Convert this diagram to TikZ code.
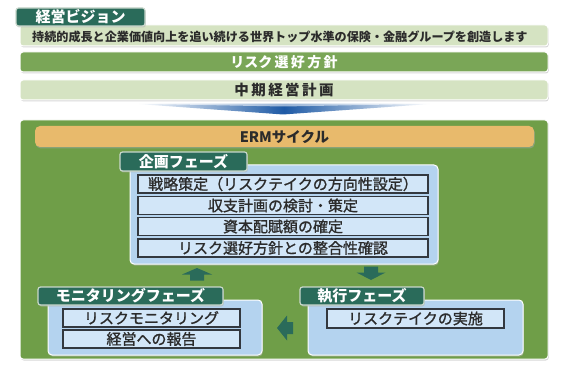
\documentclass[tikz,border=0pt]{standalone}
\usepackage{fontspec}
\setmainfont{Noto Sans CJK JP}
\newfontfamily\itemfont{Noto Sans CJK JP}[FakeBold=1.2]
\usetikzlibrary{shadows}
\definecolor{tabteal}{HTML}{2A6B5A}
\definecolor{tabedge}{HTML}{C9D8CC}
\definecolor{lightgrn}{HTML}{D5E3C2}
\definecolor{midgrn}{HTML}{7AA657}
\definecolor{biggrn}{HTML}{6F9E48}
\definecolor{ermorange}{HTML}{E8BA6C}
\definecolor{panelblue}{HTML}{B4D3EF}
\definecolor{innerblue}{HTML}{D2E6F8}
\definecolor{txtdark}{HTML}{2B2B2B}
\definecolor{swblue}{HTML}{1E5AA5}
\definecolor{boxedge}{HTML}{33383F}
\tikzset{
  shad/.style={drop shadow={shadow xshift=0.8pt,shadow yshift=-1.5pt,fill=black!30}},
  tabbox/.style={fill=tabteal,draw=tabedge,line width=1.2pt,rounded corners=2.5pt,
    text=white,font=\fontsize{15}{15}\selectfont\bfseries,inner sep=0pt,outer sep=0pt,shad},
  barbox/.style={draw=white,line width=1pt,rounded corners=3pt,inner sep=0pt,outer sep=0pt,shad},
  panelbox/.style={fill=panelblue,draw=white,line width=1pt,rounded corners=4pt,inner sep=0pt,outer sep=0pt,shad},
  itembox/.style={fill=innerblue,draw=boxedge,line width=1.2pt,inner sep=0pt,outer sep=0pt,
    text=txtdark,font=\itemfont\fontsize{15}{15}\selectfont},
  phasearrow/.style={fill=tabteal}
}
\begin{document}
\begin{tikzpicture}[x=1pt,y=-1pt]
\useasboundingbox (0,0) rectangle (583,379);
\fill[white] (0,0) rectangle (583,379);

% top bars
\node[barbox,fill=lightgrn,minimum width=528,minimum height=21] (vision) at (284,35.5) {};
\node[anchor=west,inner sep=0pt,text=txtdark,font=\fontsize{12.1}{12.1}\selectfont\bfseries] (visiontext) at (32,37) {持続的成長と企業価値向上を追い続ける世界トップ水準の保険・金融グループを創造します};
\node[tabbox,minimum width=129,minimum height=18] (visiontab) at (80.5,17) {経営ビジョン};
\node[barbox,fill=midgrn,minimum width=528,minimum height=20,text=white,font=\fontsize{14}{14}\selectfont\bfseries] (appetite) at (284,62) {リスク\,選\,好\,方\,針};
\node[barbox,fill=lightgrn,minimum width=528,minimum height=20,text=txtdark,font=\fontsize{14.5}{14.5}\selectfont\bfseries] (midplan) at (284,90) {中\,期\,経\,営\,計\,画};

% swoosh
\shade[left color=white,right color=white,middle color=swblue] (138,104) -- (430,104) -- (283,114.5) -- cycle;
\shade[left color=white,right color=white,middle color=swblue!45!white] (150,104) -- (420,104) -- (283,106.5) -- cycle;

% big green area
\node[draw=white,line width=1pt,fill=biggrn,rounded corners=3pt,minimum width=528,minimum height=239,inner sep=0pt,shad] (erm) at (284,239.5) {};
\node[fill=ermorange,rounded corners=5pt,minimum width=499,minimum height=21,inner sep=0pt,
  text=txtdark,font=\fontsize{14.5}{14.5}\selectfont\bfseries,drop shadow={shadow xshift=0.8pt,shadow yshift=-1.5pt,fill=black!35}] (ermbar) at (284.5,136.5) {ERMサイクル};

% planning phase
\node[panelbox,minimum width=308,minimum height=99] (planpanel) at (284,214.5) {};
\node[tabbox,minimum width=127,minimum height=19] (plantab) at (183.5,161.5) {企画フェーズ};
\node[itembox,minimum width=290,minimum height=18] (p1) at (283,184) {戦略策定（リスクテイクの方向性設定）};
\node[itembox,minimum width=290,minimum height=17.5] (p2) at (283,205.5) {収支計画の検討・策定};
\node[itembox,minimum width=290,minimum height=17.5] (p3) at (283,226.5) {資本配賦額の確定};
\node[itembox,minimum width=290,minimum height=18] (p4) at (283,248) {リスク選好方針との整合性確認};

% monitoring phase
\node[panelbox,minimum width=214,minimum height=55] (monpanel) at (155,327.5) {};
\node[tabbox,minimum width=185,minimum height=18] (montab) at (130.5,296) {モニタリングフェーズ};
\node[itembox,minimum width=177,minimum height=18] (m1) at (151.5,318) {リスクモニタリング};
\node[itembox,minimum width=177,minimum height=18] (m2) at (151.5,339) {経営への報告};

% execution phase
\node[panelbox,minimum width=215,minimum height=55] (execpanel) at (415.5,327.5) {};
\node[tabbox,minimum width=124,minimum height=18] (exectab) at (362,296) {執行フェーズ};
\node[itembox,minimum width=177,minimum height=19] (e1) at (415.5,318.5) {リスクテイクの実施};

% cycle arrows
\fill[phasearrow] (182,274.5) -- (197,268) -- (212,274.5) -- (204,274.5) -- (204,280.5) -- (190,280.5) -- (190,274.5) -- cycle;
\fill[phasearrow] (364,266.5) -- (378,266.5) -- (378,272.5) -- (385.5,272.5) -- (371,280) -- (356.5,272.5) -- (364,272.5) -- cycle;
\fill[phasearrow] (277,328) -- (287,315.5) -- (287,322) -- (293,322) -- (293,334) -- (287,334) -- (287,340.5) -- cycle;
\end{tikzpicture}
\end{document}
